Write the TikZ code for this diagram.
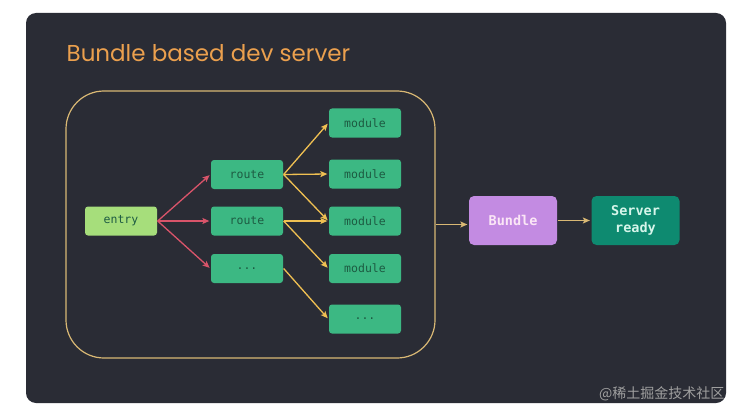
\documentclass[tikz,border=0pt]{standalone}
\usepackage{fontspec}
\setmainfont{Poppins}
\setmonofont{DejaVu Sans Mono}
\newfontfamily\cjkfont{Noto Sans CJK SC}
\usepackage{tikz}
\usetikzlibrary{
        arrows,
        arrows.meta,
        positioning,
        shapes
    }
\definecolor{panelbg}{HTML}{2A2C35}
\definecolor{titleorange}{HTML}{EBA04E}
\definecolor{framecol}{HTML}{D9B874}
\definecolor{entrygreen}{HTML}{A6DE7B}
\definecolor{boxgreen}{HTML}{3CB883}
\definecolor{boxtext}{HTML}{1D5B42}
\definecolor{bundlepurple}{HTML}{C38BE2}
\definecolor{bundletext}{HTML}{FBE6F6}
\definecolor{serverteal}{HTML}{0E8A70}
\definecolor{servertext}{HTML}{D6F5EA}
\definecolor{redarrow}{HTML}{D9546A}
\definecolor{yellowarrow}{HTML}{F0C052}
\tikzset{>={Stealth[length=7pt,width=6pt,inset=1.5pt]},shorten >=1pt}
\tikzset{
    box/.style={rectangle,rounded corners=3pt,fill=boxgreen,text=boxtext,
        minimum width=72pt,minimum height=29pt,inner sep=0pt,
        font=\ttfamily\fontsize{11.5}{13}\selectfont},
    bigbox/.style={rectangle,rounded corners=5pt,minimum width=88pt,
        minimum height=49pt,inner sep=0pt,align=center,
        font=\ttfamily\bfseries\fontsize{13.5}{17}\selectfont},
    redline/.style={->,draw=redarrow},
    yellowline/.style={->,draw=yellowarrow}
}
\begin{document}
\begin{tikzpicture}[x=1pt,y=-1pt,line width=1.3pt]
                \useasboundingbox (0,0) rectangle (741,417);
                \fill[white] (0,0) rectangle (741,417);
                \fill[panelbg,rounded corners=10pt] (26,13) rectangle (726,403);
                \node[anchor=base west,inner sep=0pt,text=titleorange,font=\fontsize{23}{27}\selectfont] (title) at (66,62) {Bundle based dev server};
                \node[draw=framecol,line width=1.2pt,rounded corners=38pt,minimum width=369pt,minimum height=267pt] (outer) at (250.5,224.5) {};
                \node[box,fill=entrygreen] (entry) at (121,221) {entry};
                \node[box] (r1) at (247,174.5) {route};
                \node[box] (r2) at (247,221) {route};
                \node[box] (r3) at (247,268.5) {...};
                \node[box] (m1) at (365,123) {module};
                \node[box] (m2) at (365,174) {module};
                \node[box] (m3) at (365,221) {module};
                \node[box] (m4) at (365,268.5) {module};
                \node[box] (m5) at (365,319) {...};
                \node[bigbox,fill=bundlepurple,text=bundletext] (bundle) at (513,220.5) {Bundle};
                \node[bigbox,fill=serverteal,text=servertext] (server) at (635.5,220.5) {Server\\ready};
                \node[anchor=east,inner sep=0pt,text=gray!75,font=\cjkfont\fontsize{14}{16}\selectfont] (mark) at (725,394) {@稀土掘金技术社区};
                % entry to routes
                \draw[redline] (entry.east) -- (r1.west);
                \draw[redline] (entry.east) -- (r2.west);
                \draw[redline] (entry.east) -- (r3.west);
                % routes to modules
                \draw[yellowline] (r1.east) -- (m1.west);
                \draw[yellowline] (r1.east) -- (m2.west);
                \draw[yellowline] (r1.east) -- (m3.west);
                \draw[yellowline] (r2.east) -- (m3.west);
                \draw[yellowline] (r2.east) -- (m4.west);
                \draw[yellowline] (r3.east) -- (m5.west);
                \draw[->,framecol] (outer.east) -- (outer.east -| bundle.west);
                \draw[->,framecol] (bundle) -- (server);
            \end{tikzpicture}
\end{document}
